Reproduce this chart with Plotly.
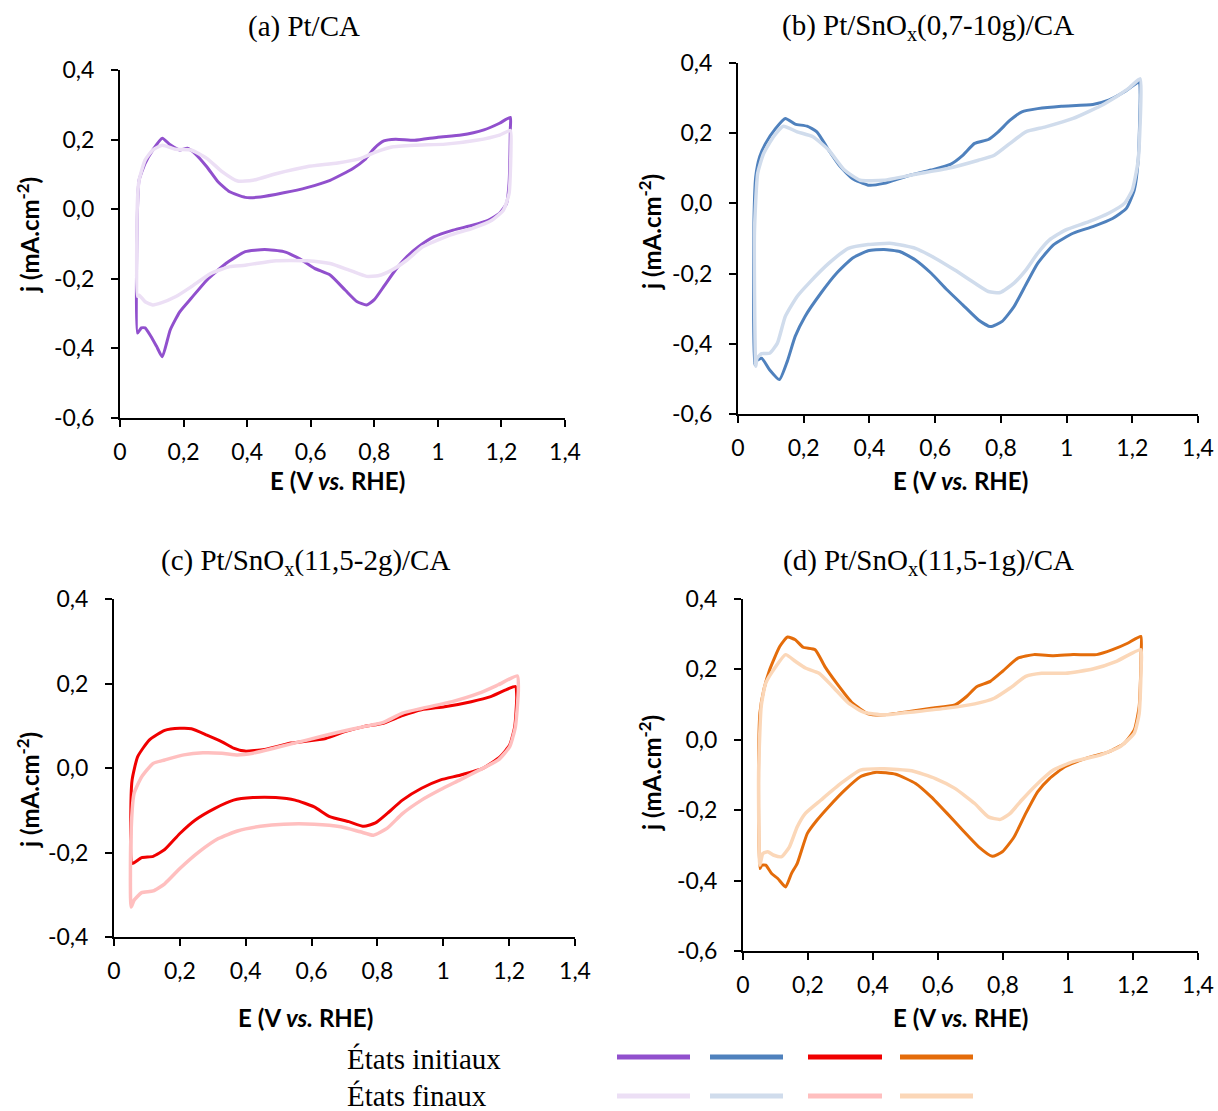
import plotly.graph_objects as go

# Target picture size (body margin removed in the page via post_script)
W, H = 1218, 1111

# ---------------- DATA ----------------
# Panel (a) Pt/CA
a_init_E = [0.055, 0.055, 0.06, 0.079, 0.103, 0.133, 0.158, 0.188, 0.212, 0.236, 0.273, 0.309, 0.345, 0.394, 0.442, 0.515, 0.588, 0.661, 0.733, 0.77, 0.80, 0.83, 0.867, 0.927, 1.0, 1.073, 1.145, 1.194, 1.228,
            1.228, 1.224, 1.216, 1.194, 1.158, 1.109, 1.048, 0.988, 0.939, 0.903, 0.867, 0.83, 0.80, 0.776, 0.745, 0.709, 0.661, 0.612, 0.564, 0.515, 0.455, 0.394, 0.333, 0.273, 0.224, 0.188, 0.158, 0.133, 0.115, 0.097, 0.079, 0.067, 0.055]
a_init_j = [-0.356, 0.0, 0.083, 0.132, 0.17, 0.204, 0.185, 0.17, 0.175, 0.16, 0.122, 0.078, 0.05, 0.034, 0.035, 0.047, 0.062, 0.083, 0.117, 0.142, 0.175, 0.196, 0.201, 0.198, 0.207, 0.213, 0.228, 0.247, 0.264,
            0.232, 0.074, 0.016, -0.012, -0.032, -0.046, -0.06, -0.079, -0.108, -0.136, -0.174, -0.222, -0.26, -0.275, -0.265, -0.233, -0.189, -0.17, -0.142, -0.122, -0.116, -0.122, -0.156, -0.204, -0.256, -0.295, -0.347, -0.424, -0.394, -0.365, -0.341, -0.341, -0.356]
a_final_E = [0.055, 0.055, 0.06, 0.079, 0.103, 0.133, 0.176, 0.224, 0.273, 0.321, 0.37, 0.418, 0.491, 0.588, 0.685, 0.758, 0.806, 0.855, 0.927, 1.024, 1.121, 1.194, 1.228,
             1.23, 1.224, 1.206, 1.17, 1.109, 1.036, 0.952, 0.903, 0.855, 0.812, 0.776, 0.721, 0.661, 0.588, 0.491, 0.394, 0.345, 0.285, 0.224, 0.176, 0.127, 0.103, 0.079, 0.06, 0.055]
a_final_j = [-0.25, 0.026, 0.083, 0.141, 0.17, 0.184, 0.172, 0.17, 0.146, 0.108, 0.081, 0.083, 0.102, 0.122, 0.133, 0.146, 0.165, 0.179, 0.184, 0.187, 0.198, 0.213, 0.226,
             0.179, 0.045, -0.003, -0.032, -0.055, -0.075, -0.108, -0.146, -0.175, -0.191, -0.193, -0.175, -0.156, -0.148, -0.148, -0.161, -0.165, -0.185, -0.223, -0.251, -0.27, -0.275, -0.266, -0.247, -0.25]

# Panel (b) Pt/SnOx(0,7-10g)/CA
b_init_E = [0.05, 0.048, 0.054, 0.066, 0.084, 0.114, 0.144, 0.174, 0.21, 0.24, 0.276, 0.312, 0.348, 0.396, 0.444, 0.516, 0.588, 0.648, 0.684, 0.72, 0.762, 0.792, 0.828, 0.864, 0.912, 0.984, 1.08, 1.128, 1.176, 1.221,
            1.224, 1.218, 1.206, 1.182, 1.14, 1.08, 1.02, 0.96, 0.912, 0.876, 0.84, 0.804, 0.768, 0.732, 0.684, 0.636, 0.588, 0.54, 0.492, 0.444, 0.396, 0.348, 0.30, 0.252, 0.204, 0.174, 0.15, 0.126, 0.096, 0.072, 0.054, 0.05]
b_init_j = [-0.46, -0.085, 0.076, 0.133, 0.171, 0.213, 0.242, 0.226, 0.22, 0.204, 0.152, 0.104, 0.071, 0.052, 0.057, 0.078, 0.095, 0.112, 0.137, 0.171, 0.182, 0.204, 0.237, 0.261, 0.27, 0.277, 0.282, 0.294, 0.318, 0.346,
            0.313, 0.123, 0.038, -0.014, -0.043, -0.066, -0.085, -0.118, -0.171, -0.232, -0.294, -0.336, -0.351, -0.332, -0.289, -0.246, -0.199, -0.161, -0.137, -0.131, -0.135, -0.156, -0.199, -0.256, -0.322, -0.379, -0.45, -0.502, -0.474, -0.441, -0.45, -0.46]
b_final_E = [0.054, 0.05, 0.06, 0.078, 0.108, 0.138, 0.18, 0.228, 0.276, 0.324, 0.372, 0.444, 0.54, 0.636, 0.732, 0.78, 0.828, 0.876, 0.936, 1.02, 1.116, 1.188, 1.224,
             1.226, 1.218, 1.20, 1.176, 1.128, 1.068, 0.996, 0.948, 0.912, 0.876, 0.84, 0.798, 0.762, 0.72, 0.66, 0.60, 0.54, 0.468, 0.396, 0.336, 0.276, 0.216, 0.18, 0.144, 0.12, 0.096, 0.072, 0.058, 0.054]
b_final_j = [-0.464, -0.085, 0.086, 0.142, 0.19, 0.22, 0.204, 0.19, 0.152, 0.095, 0.066, 0.066, 0.083, 0.099, 0.123, 0.137, 0.171, 0.204, 0.218, 0.242, 0.284, 0.327, 0.355,
             0.294, 0.123, 0.038, 0.0, -0.028, -0.052, -0.076, -0.104, -0.142, -0.19, -0.227, -0.254, -0.251, -0.227, -0.19, -0.156, -0.128, -0.114, -0.117, -0.128, -0.171, -0.227, -0.265, -0.322, -0.398, -0.427, -0.428, -0.441, -0.464]

# Panel (c) Pt/SnOx(11,5-2g)/CA
c_init_E = [0.055, 0.051, 0.055, 0.072, 0.107, 0.154, 0.20, 0.235, 0.282, 0.328, 0.363, 0.398, 0.457, 0.538, 0.643, 0.701, 0.759, 0.818, 0.876, 0.934, 1.004, 1.085, 1.144, 1.19, 1.219,
            1.223, 1.217, 1.202, 1.173, 1.12, 1.051, 0.992, 0.934, 0.876, 0.829, 0.794, 0.759, 0.713, 0.655, 0.608, 0.55, 0.491, 0.422, 0.363, 0.305, 0.247, 0.20, 0.154, 0.119, 0.084, 0.055]
c_init_j = [-0.226, -0.131, -0.028, 0.027, 0.066, 0.089, 0.094, 0.093, 0.078, 0.062, 0.047, 0.04, 0.044, 0.059, 0.07, 0.086, 0.098, 0.106, 0.124, 0.138, 0.145, 0.157, 0.169, 0.185, 0.193,
            0.169, 0.098, 0.055, 0.027, -0.001, -0.017, -0.028, -0.048, -0.076, -0.108, -0.13, -0.138, -0.127, -0.115, -0.092, -0.076, -0.07, -0.07, -0.076, -0.096, -0.123, -0.155, -0.193, -0.209, -0.212, -0.226]
c_final_E = [0.052, 0.051, 0.061, 0.084, 0.119, 0.154, 0.212, 0.27, 0.328, 0.375, 0.422, 0.491, 0.585, 0.678, 0.759, 0.818, 0.876, 0.934, 1.027, 1.109, 1.167, 1.225,
             1.228, 1.219, 1.202, 1.167, 1.109, 1.051, 0.992, 0.934, 0.876, 0.829, 0.788, 0.748, 0.689, 0.608, 0.515, 0.445, 0.375, 0.317, 0.259, 0.20, 0.154, 0.119, 0.084, 0.061, 0.052]
c_final_j = [-0.329, -0.171, -0.06, -0.021, 0.011, 0.019, 0.031, 0.036, 0.035, 0.031, 0.035, 0.048, 0.066, 0.084, 0.098, 0.108, 0.13, 0.141, 0.157, 0.177, 0.197, 0.218,
             0.185, 0.098, 0.051, 0.019, -0.005, -0.028, -0.051, -0.076, -0.108, -0.143, -0.159, -0.151, -0.139, -0.133, -0.133, -0.138, -0.149, -0.167, -0.198, -0.238, -0.274, -0.291, -0.295, -0.313, -0.329]

# Panel (d) Pt/SnOx(11,5-1g)/CA
d_init_E = [0.052, 0.048, 0.052, 0.064, 0.082, 0.113, 0.137, 0.161, 0.185, 0.222, 0.252, 0.288, 0.337, 0.385, 0.434, 0.507, 0.579, 0.652, 0.688, 0.719, 0.761, 0.798, 0.846, 0.895, 0.955, 1.016, 1.088, 1.137, 1.185, 1.224,
            1.225, 1.219, 1.204, 1.173, 1.125, 1.064, 0.992, 0.943, 0.907, 0.87, 0.834, 0.798, 0.767, 0.725, 0.676, 0.628, 0.579, 0.531, 0.47, 0.41, 0.361, 0.313, 0.264, 0.228, 0.198, 0.167, 0.149, 0.131, 0.107, 0.088, 0.07, 0.058, 0.052]
d_init_j = [-0.366, -0.095, 0.076, 0.142, 0.199, 0.265, 0.292, 0.284, 0.263, 0.256, 0.208, 0.161, 0.104, 0.074, 0.071, 0.08, 0.09, 0.099, 0.123, 0.151, 0.166, 0.194, 0.232, 0.242, 0.239, 0.242, 0.242, 0.256, 0.275, 0.294,
            0.246, 0.095, 0.028, -0.01, -0.034, -0.05, -0.076, -0.11, -0.147, -0.209, -0.276, -0.318, -0.331, -0.304, -0.257, -0.209, -0.162, -0.124, -0.098, -0.092, -0.105, -0.143, -0.19, -0.228, -0.266, -0.351, -0.38, -0.418, -0.394, -0.38, -0.356, -0.356, -0.366]
d_final_E = [0.052, 0.048, 0.056, 0.07, 0.101, 0.131, 0.161, 0.192, 0.234, 0.276, 0.325, 0.373, 0.434, 0.531, 0.628, 0.713, 0.773, 0.822, 0.87, 0.919, 0.992, 1.076, 1.149, 1.224,
             1.225, 1.219, 1.204, 1.161, 1.101, 1.016, 0.955, 0.907, 0.858, 0.822, 0.792, 0.755, 0.713, 0.652, 0.592, 0.519, 0.434, 0.361, 0.301, 0.24, 0.192, 0.167, 0.143, 0.119, 0.095, 0.076, 0.061, 0.052]
d_final_j = [-0.356, -0.095, 0.095, 0.161, 0.208, 0.242, 0.223, 0.204, 0.189, 0.151, 0.104, 0.078, 0.071, 0.08, 0.09, 0.102, 0.118, 0.147, 0.18, 0.189, 0.189, 0.201, 0.223, 0.256,
             0.208, 0.075, 0.019, -0.019, -0.043, -0.062, -0.086, -0.124, -0.171, -0.209, -0.226, -0.219, -0.181, -0.138, -0.11, -0.088, -0.082, -0.086, -0.124, -0.171, -0.209, -0.247, -0.304, -0.332, -0.328, -0.318, -0.323, -0.356]

panel_titles = ["(a) Pt/CA", "(b) Pt/SnO<sub>x</sub>(0,7-10g)/CA",
                "(c) Pt/SnO<sub>x</sub>(11,5-2g)/CA", "(d) Pt/SnO<sub>x</sub>(11,5-1g)/CA"]
legend_labels = ["États initiaux", "États finaux"]

x_tickvals = [0, 0.2, 0.4, 0.6, 0.8, 1.0, 1.2, 1.4]
x_ticktext = ["0", "0,2", "0,4", "0,6", "0,8", "1", "1,2", "1,4"]
y_tickvals_6 = [-0.6, -0.4, -0.2, 0.0, 0.2, 0.4]
y_ticktext_6 = ["-0,6", "-0,4", "-0,2", "0,0", "0,2", "0,4"]
y_tickvals_4 = [-0.4, -0.2, 0.0, 0.2, 0.4]
y_ticktext_4 = ["-0,4", "-0,2", "0,0", "0,2", "0,4"]

init_colors = ["#9150cd", "#4f81bd", "#f00000", "#e46c0a"]
final_colors = ["#ecdff5", "#d0dcec", "#ffbfbf", "#fbd7b8"]

curves = [
    (a_init_E, a_init_j, a_final_E, a_final_j),
    (b_init_E, b_init_j, b_final_E, b_final_j),
    (c_init_E, c_init_j, c_final_E, c_final_j),
    (d_init_E, d_init_j, d_final_E, d_final_j),
]

# ---------------- LAYOUT (pixel boxes in the screenshot) ----------------
boxes = [  # x0, x1, ytop, ybottom in pixels
    (120, 565, 70, 418),
    (738, 1198, 63, 414),
    (114, 575, 599, 937),
    (743, 1198, 599, 951),
]
yranges = [(-0.6, 0.4), (-0.6, 0.4), (-0.4, 0.4), (-0.6, 0.4)]


def px(x):
    return x / W


def py(y):
    return 1 - y / H


fig = go.Figure()
TICKFONT = dict(family="Lato, Carlito, Calibri, sans-serif", size=23, color="black")
TITLEFONT = dict(family="Lato, Carlito, Calibri, sans-serif", size=24, color="black")
SERIF = "Liberation Serif, Times New Roman, serif"

annotations = []
layout_axes = {}
for i in range(4):
    ax = "" if i == 0 else str(i + 1)
    iE, ij, fE, fj = curves[i]
    fig.add_trace(go.Scatter(x=iE, y=ij, mode="lines", xaxis="x" + ax, yaxis="y" + ax,
                             line=dict(color=init_colors[i], width=3, shape="spline", smoothing=0.5),
                             showlegend=False, hoverinfo="skip"))
    fig.add_trace(go.Scatter(x=fE, y=fj, mode="lines", xaxis="x" + ax, yaxis="y" + ax,
                             line=dict(color=final_colors[i], width=3.5, shape="spline", smoothing=0.5),
                             showlegend=False, hoverinfo="skip"))
    x0, x1, yt, yb = boxes[i]
    if yranges[i][0] == -0.4:
        yv, yt_txt = y_tickvals_4, y_ticktext_4
    else:
        yv, yt_txt = y_tickvals_6, y_ticktext_6
    layout_axes["xaxis" + ax] = dict(
        domain=[px(x0), px(x1)], range=[0, 1.4], anchor="y" + ax, automargin=False,
        showline=True, linecolor="black", linewidth=2, ticks="outside", ticklen=7,
        tickwidth=2, tickcolor="black", showgrid=False, zeroline=False,
        tickvals=x_tickvals, ticktext=x_ticktext, tickfont=TICKFONT, ticklabelstandoff=5)
    layout_axes["yaxis" + ax] = dict(
        domain=[py(yb), py(yt)], range=list(yranges[i]), anchor="x" + ax, automargin=False,
        showline=True, linecolor="black", linewidth=2, ticks="outside", ticklen=7,
        tickwidth=2, tickcolor="black", showgrid=False, zeroline=False,
        tickvals=yv, ticktext=yt_txt, tickfont=TICKFONT, ticklabelstandoff=12)

# titles and axis titles as annotations
title_pos = [(304, 27), (928, 27), (305, 562), (928, 562)]
xlab_pos = [(337, 481), (960, 481), (305, 1017), (960, 1017)]
ylab_pos = [(28, 235), (650, 232), (28, 790), (650, 773)]
for i in range(4):
    annotations.append(dict(text=panel_titles[i], x=px(title_pos[i][0]), y=py(title_pos[i][1]),
                            xref="paper", yref="paper", showarrow=False, xanchor="center", yanchor="middle",
                            font=dict(family=SERIF, size=29, color="black")))
    annotations.append(dict(text="<b>E (V <i>vs.</i> RHE)</b>", x=px(xlab_pos[i][0]), y=py(xlab_pos[i][1]),
                            xref="paper", yref="paper", showarrow=False, xanchor="center", yanchor="middle",
                            font=TITLEFONT))
    annotations.append(dict(text="<b>j (mA.cm<sup>-2</sup>)</b>", x=px(ylab_pos[i][0]), y=py(ylab_pos[i][1]),
                            xref="paper", yref="paper", showarrow=False, xanchor="center", yanchor="middle",
                            textangle=-90, font=TITLEFONT))

# custom legend
leg_rows_y = [1057, 1096]
leg_text_y = [1059, 1096]
leg_text_x = 345
seg_x = [(617, 690), (710, 783), (808, 882), (900, 973)]
shapes = []
for r, label in enumerate(legend_labels):
    annotations.append(dict(text=label, x=px(leg_text_x), y=py(leg_text_y[r]), xref="paper", yref="paper",
                            showarrow=False, xanchor="left", yanchor="middle",
                            font=dict(family=SERIF, size=29, color="black")))
    cols = init_colors if r == 0 else final_colors
    for k, (sx0, sx1) in enumerate(seg_x):
        shapes.append(dict(type="line", xref="paper", yref="paper", x0=px(sx0), x1=px(sx1),
                           y0=py(leg_rows_y[r]), y1=py(leg_rows_y[r]),
                           line=dict(color=cols[k], width=5)))

fig.update_layout(
    width=W, height=H, margin=dict(l=0, r=0, t=0, b=0, autoexpand=False),
    paper_bgcolor="white", plot_bgcolor="white",
    annotations=annotations, shapes=shapes, showlegend=False,
    **layout_axes,
)

fig.write_html("out.html",
               config={"displayModeBar": False, "staticPlot": True},
               post_script="document.body.style.margin='0';document.body.style.overflow='hidden';")
